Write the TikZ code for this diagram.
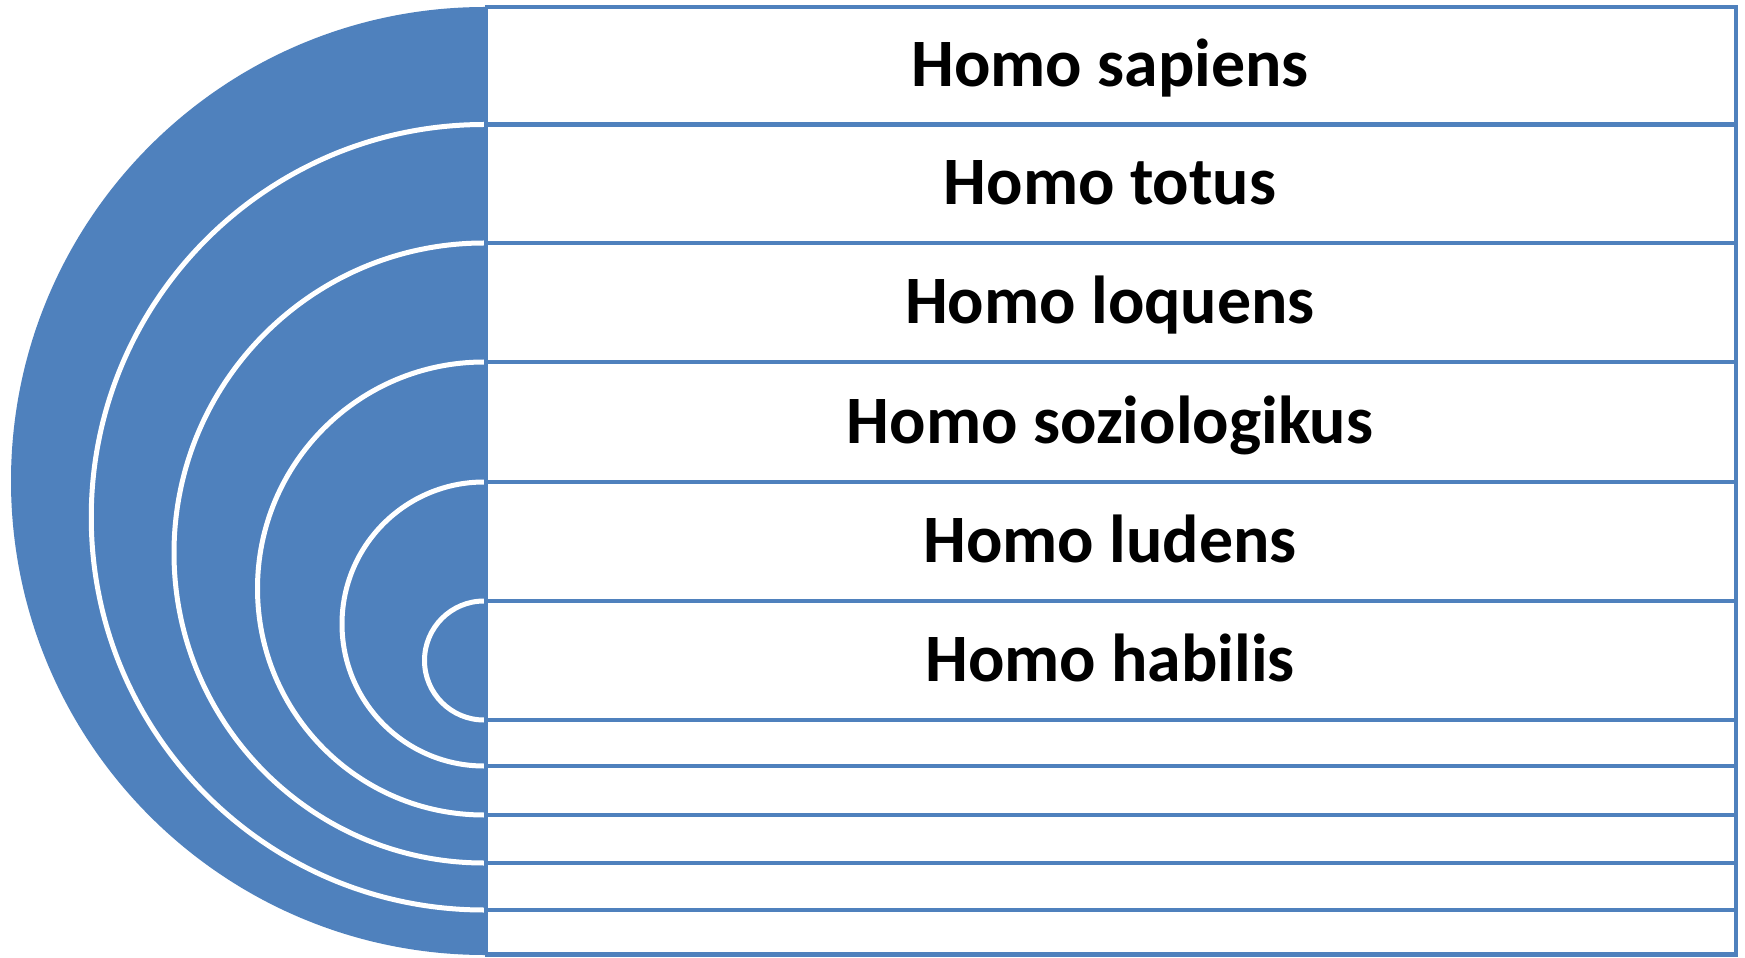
\documentclass[tikz,border=0pt]{standalone}
\usepackage{fontspec}
\setmainfont{Carlito}
\definecolor{obl}{RGB}{79,129,189}
\begin{document}
\begin{tikzpicture}[x=0.1mm,y=0.1mm,
  ring/.style={draw=white,line width=0.5mm},
  rule/.style={draw=obl,line width=0.45mm},
  lbl/.style={font=\fontsize{19.3pt}{23pt}\selectfont\bfseries, anchor=base, inner sep=0pt}]
\useasboundingbox (0,0) rectangle (1745,957);
\fill[white] (0,0) rectangle (1745,957);
% nested half discs
\foreach \c/\r in {476/474, 439.75/392.75, 404/310, 368.5/226.5, 333/142, 296.5/59.5} {
  \fill[obl] (485,\c+\r) arc[start angle=90,end angle=270,radius=\r] -- cycle;
}
\foreach \c/\r in {439.75/392.75, 404/310, 368.5/226.5, 333/142, 296.5/59.5} {
  \draw[ring] (484,\c+\r) arc[start angle=90,end angle=270,radius=\r];
}
% table
\draw[rule] (486,2.5) -- (486,950);
\draw[rule] (1736,2.5) -- (1736,950);
\foreach \y in {950,832.5,714,595,475,356,237,191,142,94,47,2.5}
  \draw[rule] (485,\y) -- (1738,\y);
% labels
\node[lbl] (t1) at (1110,870) {Homo sapiens};
\node[lbl] (t2) at (1110,752) {Homo totus};
\node[lbl] (t3) at (1110,633.5) {Homo loquens};
\node[lbl] (t4) at (1110,514) {Homo soziologikus};
\node[lbl] (t5) at (1110,394.5) {Homo ludens};
\node[lbl] (t6) at (1110,275.5) {Homo habilis};
\end{tikzpicture}
\end{document}
